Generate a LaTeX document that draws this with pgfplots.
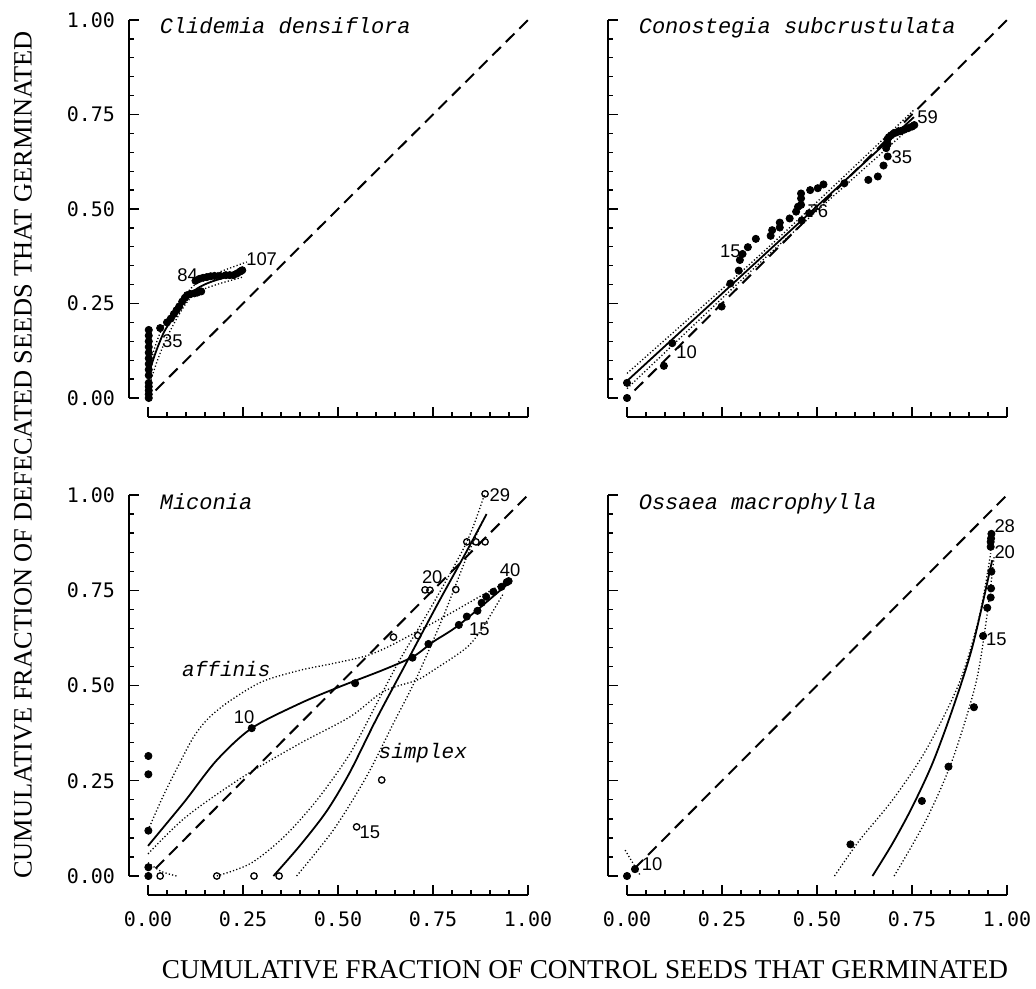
\documentclass[border=0pt]{standalone}
\usepackage{pgfplots}
\pgfplotsset{compat=1.18}
\usepackage{fontspec}
\setmainfont{Liberation Serif}
\newfontfamily\mono{Liberation Mono}
\newfontfamily\dmono{DejaVu Sans Mono}
\newfontfamily\lsans{Liberation Sans}
\pgfplotsset{
  panel/.style={
    scale only axis, width=190pt, height=189pt,
    xmin=0, xmax=1, ymin=0, ymax=1,
    clip=false, anchor=south west,
    axis lines=left,
    axis line style={-, line width=0.75pt},
    axis x line shift=9.5pt, axis y line shift=9.5pt,
    xtick={0,0.25,0.5,0.75,1}, ytick={0,0.25,0.5,0.75,1},
    minor tick num=4,
    tick align=inside,
    major tick length=5pt, minor tick length=2.6pt,
    tick style={black, line width=0.65pt},
    xticklabels={0.00,0.25,0.50,0.75,1.00},
    yticklabels={0.00,0.25,0.50,0.75,1.00},
    tick label style={font=\dmono\fontsize{10}{12}\selectfont},
    xticklabel style={yshift=-5pt},
    yticklabel style={xshift=-3.5pt},
  },
  nox/.style={xticklabels={}},
  noy/.style={yticklabels={}},
  diag/.style={black, line width=1pt, dash pattern=on 6pt off 3.5pt},
  fit/.style={black, line width=0.9pt, smooth},
  band/.style={black, line width=0.65pt, dash pattern=on 0.6pt off 1.1pt, smooth},
  dots/.style={only marks, mark=*, mark size=1.8pt, black},
  circ/.style={only marks, mark=o, mark size=1.6pt, black, mark options={line width=0.65pt, fill=white}},
}
\newcommand{\ttl}[1]{\node[anchor=base west, font=\mono\itshape\fontsize{11}{13}\selectfont, inner sep=0pt] at (axis cs:0.03,0.963) {#1};}
\newcommand{\lbl}[2]{\node[font=\lsans\fontsize{9.2}{10}\selectfont, inner sep=0pt] at (axis cs:#1) {#2};}
\begin{document}
\begin{tikzpicture}
\useasboundingbox (0,0) rectangle (518pt,-494pt);

% ---------------- Clidemia densiflora ----------------
\begin{axis}[panel, nox, at={(74pt,-199pt)}]
\addplot[diag] coordinates {(0.02,0.02) (1,1)};
\addplot[band] coordinates {(0.0,0.07)(0.02,0.14)(0.04,0.19)(0.07,0.235)(0.1,0.275)(0.13,0.305)(0.18,0.33)(0.26,0.36)};
\addplot[band] coordinates {(0.005,0.04)(0.025,0.1)(0.045,0.15)(0.07,0.2)(0.1,0.25)(0.13,0.28)(0.18,0.3)(0.25,0.32)};
\addplot[fit] coordinates {(0,0.06)(0.02,0.12)(0.04,0.17)(0.06,0.205)(0.08,0.24)(0.1,0.265)(0.13,0.29)(0.16,0.305)(0.2,0.318)(0.25,0.33)};
\addplot[dots] coordinates {
(0.002,0.0)(0.002,0.01)(0.002,0.02)(0.002,0.03)(0.002,0.04)
(0.002,0.06)(0.002,0.075)(0.002,0.09)(0.002,0.105)(0.002,0.12)(0.002,0.135)(0.002,0.15)(0.002,0.165)(0.002,0.18)
(0.032,0.185)(0.05,0.2)(0.06,0.21)(0.068,0.222)(0.075,0.232)(0.082,0.242)(0.09,0.255)(0.097,0.265)(0.103,0.272)
(0.112,0.275)(0.122,0.277)(0.13,0.279)(0.14,0.282)
(0.125,0.31)(0.135,0.315)(0.145,0.318)(0.155,0.32)(0.165,0.322)(0.175,0.323)(0.19,0.323)(0.205,0.325)
(0.215,0.325)(0.225,0.325)(0.235,0.33)(0.243,0.335)(0.248,0.338)};
\ttl{Clidemia densiflora}
\lbl{0.299,0.366}{107}
\lbl{0.104,0.324}{84}
\lbl{0.064,0.151}{35}
\end{axis}

% ---------------- Conostegia subcrustulata ----------------
\begin{axis}[panel, nox, noy, at={(313.5pt,-199pt)}]
\addplot[diag] coordinates {(0.02,0.02) (1,1)};
\addplot[band] coordinates {(0,0.065)(0.38,0.406)(0.755,0.762)};
\addplot[band] coordinates {(0,0.025)(0.38,0.386)(0.755,0.724)};
\addplot[fit] coordinates {(0,0.045)(0.755,0.743)};
\addplot[dots] coordinates {
(0,0)(0,0.04)(0.097,0.085)(0.119,0.145)(0.249,0.242)(0.272,0.303)(0.294,0.337)(0.297,0.365)(0.304,0.381)
(0.318,0.399)(0.339,0.421)(0.378,0.429)(0.382,0.444)(0.402,0.451)(0.402,0.464)(0.428,0.475)(0.445,0.493)
(0.45,0.506)(0.458,0.511)(0.458,0.528)(0.458,0.541)(0.482,0.55)(0.502,0.555)(0.517,0.565)(0.479,0.489)
(0.46,0.47)(0.572,0.568)(0.635,0.577)(0.66,0.586)(0.675,0.615)(0.686,0.639)(0.682,0.661)(0.686,0.672)
(0.685,0.684)(0.689,0.69)(0.695,0.695)(0.702,0.70)(0.71,0.703)(0.72,0.706)(0.73,0.71)(0.74,0.714)
(0.75,0.718)(0.756,0.722)};
\ttl{Conostegia subcrustulata}
\lbl{0.791,0.742}{59}
\lbl{0.723,0.636}{35}
\lbl{0.502,0.495}{76}
\lbl{0.272,0.389}{15}
\lbl{0.157,0.12}{10}
\end{axis}

% ---------------- Miconia ----------------
\begin{axis}[panel, height=190.5pt, at={(74pt,-438pt)}]
\addplot[diag] coordinates {(0.02,0.02) (1,1)};
% affinis
\addplot[band] coordinates {(0,0.12)(0.04,0.21)(0.08,0.29)(0.12,0.365)(0.16,0.415)(0.216,0.46)(0.3,0.51)(0.4,0.54)(0.488,0.558)(0.575,0.578)(0.637,0.604)(0.716,0.646)(0.795,0.689)(0.865,0.729)(0.94,0.77)};
\addplot[band] coordinates {(0,0.058)(0.101,0.156)(0.251,0.261)(0.4,0.348)(0.532,0.418)(0.619,0.484)(0.707,0.514)(0.751,0.54)(0.839,0.6)(0.882,0.654)(0.935,0.741)};
\addplot[fit] coordinates {(0.0,0.079)(0.049,0.138)(0.1,0.2)(0.181,0.304)(0.273,0.388)(0.4,0.453)(0.505,0.497)(0.619,0.541)(0.698,0.576)(0.751,0.615)(0.821,0.661)(0.953,0.772)};
% simplex
\addplot[band] coordinates {(0.0,0.035)(0.035,0.012)(0.075,0.0)};
\addplot[band] coordinates {(0.181,0.0)(0.27,0.033)(0.358,0.103)(0.445,0.2)(0.532,0.322)(0.602,0.453)(0.663,0.568)(0.751,0.716)(0.839,0.877)(0.885,1.0)};
\addplot[band] coordinates {(0.391,0)(0.488,0.121)(0.575,0.261)(0.646,0.401)(0.708,0.523)(0.777,0.681)(0.839,0.838)(0.88,0.93)};
\addplot[fit] coordinates {(0.33,0)(0.4,0.08)(0.47,0.17)(0.53,0.27)(0.6,0.41)(0.68,0.56)(0.76,0.71)(0.84,0.855)(0.891,0.95)};
\addplot[dots] coordinates {
(0.001,0.0)(0.001,0.023)(0.001,0.119)(0.001,0.267)(0.001,0.315)(0.273,0.388)(0.545,0.506)(0.696,0.573)
(0.738,0.609)(0.818,0.659)(0.839,0.681)(0.867,0.696)(0.878,0.717)(0.89,0.733)(0.909,0.746)(0.93,0.759)
(0.944,0.771)(0.949,0.774)};
\addplot[circ] coordinates {
(0.032,0)(0.181,0)(0.279,0)(0.345,0)(0.549,0.129)(0.615,0.252)(0.646,0.627)(0.71,0.631)(0.729,0.751)
(0.742,0.75)(0.81,0.752)(0.839,0.877)(0.863,0.877)(0.887,0.877)(0.887,1.003)};
\ttl{Miconia}
\node[anchor=base west, font=\mono\itshape\fontsize{10.5}{12}\selectfont, inner sep=0pt] at (axis cs:0.089,0.523) {affinis};
\node[anchor=base west, font=\mono\itshape\fontsize{10.5}{12}\selectfont, inner sep=0pt] at (axis cs:0.606,0.309) {simplex};
\lbl{0.926,1.0}{29}
\lbl{0.953,0.803}{40}
\lbl{0.748,0.784}{20}
\lbl{0.872,0.647}{15}
\lbl{0.253,0.416}{10}
\lbl{0.584,0.116}{15}
\end{axis}

% ---------------- Ossaea macrophylla ----------------
\begin{axis}[panel, noy, height=190.5pt, at={(313.5pt,-438pt)}]
\addplot[diag] coordinates {(0.02,0.02) (1,1)};
\addplot[band] coordinates {(-0.005,0.068)(0.034,0.003)};
\addplot[band] coordinates {(0.546,0)(0.612,0.094)(0.699,0.2)(0.787,0.331)(0.874,0.506)(0.927,0.681)(0.957,0.847)};
\addplot[band] coordinates {(0.703,0)(0.787,0.147)(0.856,0.304)(0.918,0.506)(0.948,0.689)(0.966,0.838)};
\addplot[fit] coordinates {(0.646,0)(0.699,0.086)(0.751,0.182)(0.804,0.296)(0.856,0.436)(0.909,0.602)(0.961,0.829)};
\addplot[dots] coordinates {
(0,0)(0.021,0.018)(0.588,0.083)(0.776,0.197)(0.846,0.287)(0.913,0.443)(0.937,0.63)(0.948,0.704)
(0.957,0.731)(0.958,0.755)(0.959,0.799)(0.957,0.864)(0.957,0.877)(0.958,0.886)(0.959,0.898)};
\ttl{Ossaea macrophylla}
\lbl{0.994,0.919}{28}
\lbl{0.994,0.851}{20}
\lbl{0.972,0.621}{15}
\lbl{0.066,0.031}{10}
\end{axis}

\node[font=\fontsize{13.6}{15}\selectfont] at (292.5pt,-485pt) {CUMULATIVE FRACTION OF CONTROL SEEDS THAT GERMINATED};
\node[rotate=90, font=\fontsize{13.2}{15}\selectfont] at (11.5pt,-227.5pt) {CUMULATIVE FRACTION OF DEFECATED SEEDS THAT GERMINATED};
\end{tikzpicture}
\end{document}
